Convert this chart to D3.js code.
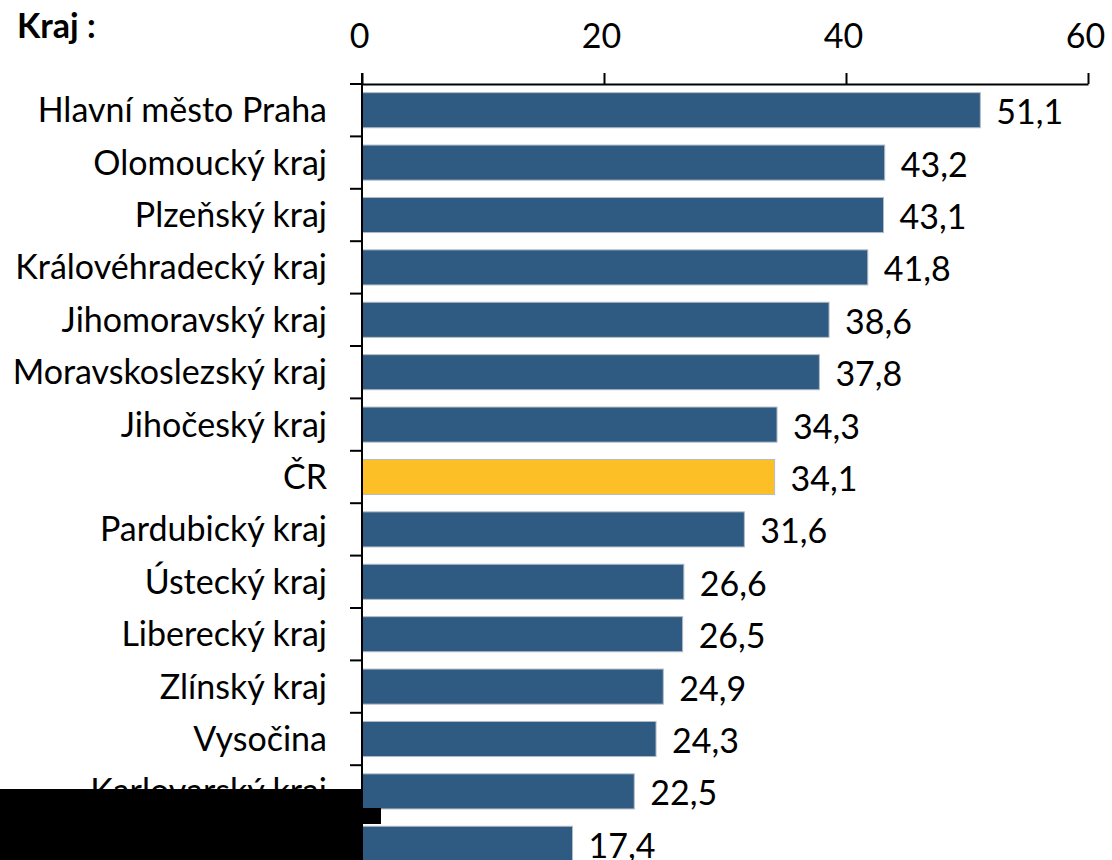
<!DOCTYPE html>
<html>
<head>
<meta charset="utf-8">
<script src="https://cdn.jsdelivr.net/npm/d3@7"></script>
<style>
  body { margin: 0; background: #fff; }
  text { font-family: Lato, "Open Sans", sans-serif; fill: #000; }
</style>
</head>
<body>
<div id="chart"></div>
<script>
// Data
let regions = ["Hlavní město Praha", "Olomoucký kraj", "Plzeňský kraj", "Královéhradecký kraj",
    "Jihomoravský kraj", "Moravskoslezský kraj", "Jihočeský kraj", "ČR", "Pardubický kraj",
    "Ústecký kraj", "Liberecký kraj", "Zlínský kraj", "Vysočina", "Karlovarský kraj", "Středočeský kraj"];
let values = [51.1, 43.2, 43.1, 41.8, 38.6, 37.8, 34.3, 34.1, 31.6, 26.6, 26.5, 24.9, 24.3, 22.5, 17.4];
let xTicks = [0, 20, 40, 60];

let data = regions.map(function (r, i) {
    return { name: r, value: values[i] };
});

let width = 1112, height = 860;
let margin = { top: 84, left: 362 };

let svg = d3.select('#chart')
    .append('svg')
    .attr('width', width)
    .attr('height', height);

// Scales
let x = d3.scaleLinear().domain([0, 60]).range([margin.left, 1088]);
let y = d3.scaleBand()
    .domain(regions)
    .range([margin.top, 870])
    .paddingInner(0.33)
    .paddingOuter(0.165);

let fmt = function (v) {
    return d3.format('.1f')(v).replace('.', ',');
};

// Bars
svg.selectAll('.bar')
    .data(data)
    .enter()
    .append('rect')
    .attr('class', 'bar')
    .attr('x', x(0))
    .attr('y', function (d) { return y(d.name); })
    .attr('width', function (d) { return x(d.value) - x(0); })
    .attr('height', y.bandwidth())
    .attr('fill', function (d) { return d.name === 'ČR' ? '#FCC026' : '#2F5B82'; })
    .attr('stroke', '#b4bcc4')
    .attr('stroke-width', 1);

// Value labels
svg.selectAll('.val')
    .data(data)
    .enter()
    .append('text')
    .attr('class', 'val')
    .attr('x', function (d) { return x(d.value) + 16; })
    .attr('y', function (d) { return y(d.name) + y.bandwidth() / 2 + 2; })
    .attr('dy', '0.35em')
    .style('font-size', '34px')
    .text(function (d) { return fmt(d.value); });

// Top axis
let xAxis = svg.append('g')
    .attr('transform', 'translate(0,' + margin.top + ')')
    .call(d3.axisTop(x).tickValues(xTicks).tickSize(11).tickPadding(25).tickSizeOuter(0));
xAxis.select('.domain').attr('stroke', '#000').attr('stroke-width', 2);
xAxis.selectAll('.tick line').attr('stroke', '#000').attr('stroke-width', 2);
xAxis.selectAll('.tick text')
    .attr('dx', -3)
    .style('font-size', '34px')
    .style('font-family', 'Lato, sans-serif')
    .attr('fill', '#000');

// Left axis: vertical line, ticks between categories, labels
let step = y.step();
let bounds = [y(regions[0]) - (step - y.bandwidth()) / 2].concat(regions.map(function (r) {
    return y(r) + y.bandwidth() + (step - y.bandwidth()) / 2;
}));

svg.append('line')
    .attr('x1', x(0)).attr('x2', x(0))
    .attr('y1', margin.top - 11).attr('y2', height)
    .attr('stroke', '#000').attr('stroke-width', 2);

svg.selectAll('.ytick')
    .data(bounds)
    .enter()
    .append('line')
    .attr('x1', x(0) - 12).attr('x2', x(0))
    .attr('y1', function (d) { return d; })
    .attr('y2', function (d) { return d; })
    .attr('stroke', '#000').attr('stroke-width', 2);

svg.selectAll('.lbl')
    .data(regions)
    .enter()
    .append('text')
    .attr('class', 'lbl')
    .attr('x', 327)
    .attr('y', function (d) { return y(d) + y.bandwidth() / 2; })
    .attr('dy', '0.35em')
    .attr('text-anchor', 'end')
    .style('font-size', '34px')
    .text(function (d) { return d; });

// Axis title
svg.append('text')
    .attr('x', 17)
    .attr('y', 38)
    .style('font-size', '34px')
    .style('font-weight', 'bold')
    .text('Kraj :');

// Redaction block as in the reference
svg.append('rect').attr('x', 0).attr('y', 789).attr('width', 363).attr('height', 71).attr('fill', '#000');
svg.append('rect').attr('x', 362).attr('y', 808).attr('width', 19).attr('height', 16).attr('fill', '#000');
</script>
</body>
</html>
